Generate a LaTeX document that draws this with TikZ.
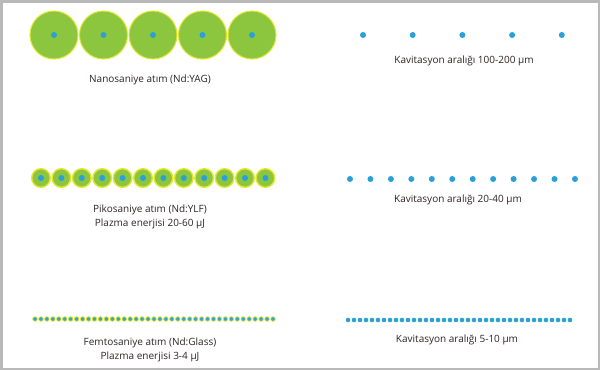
\documentclass[tikz,border=0pt]{standalone}
\usepackage{fontspec}
\setmainfont{Open Sans}
\definecolor{pulsegreen}{HTML}{8CC63F}
\definecolor{haloyellow}{HTML}{E2E62C}
\definecolor{cavblue}{HTML}{2A9FD8}
\definecolor{labelink}{HTML}{2E2424}
\begin{document}
\begin{tikzpicture}[x=1pt,y=-1pt,
  puls/.style={circle, fill=pulsegreen, draw=haloyellow, inner sep=0pt},
  kav/.style={circle, fill=cavblue, inner sep=0pt, minimum size=6pt},
  femto/.style={circle, fill=cavblue!85!pulsegreen, draw=haloyellow, line width=0.7pt, inner sep=0pt, minimum size=4.6pt},
  etiket/.style={text=labelink, font=\fontsize{10}{14}\selectfont, align=center}]
\useasboundingbox (0,0) rectangle (600,370);
\draw[gray!55, line width=2.5pt] (1.25,1.25) rectangle (598.75,368.75);
% nanosaniye
\foreach \i in {0,...,4} {
  \node[puls, minimum size=48pt, line width=1pt] (N\i) at (54+49.5*\i,35) {};
  \node[kav] (Nk\i) at (N\i) {};
  \node[kav] (K\i) at (363+49.7*\i,35) {};
}
\node[etiket] (nano) at (150,80) {Nanosaniye atım (Nd:YAG)};
\node[etiket] (kavnano) at (464,61) {Kavitasyon aralığı 100-200 µm};
% pikosaniye
\foreach \i in {0,...,11} {
  \node[puls, minimum size=18.6pt, line width=1.4pt] (P\i) at (41+20.4*\i,178) {};
  \node[kav] (Pk\i) at (P\i) {};
  \node[kav] (L\i) at (350+20.45*\i,179) {};
}
\node[etiket] (piko) at (150,217) {Pikosaniye atım (Nd:YLF)\\Plazma enerjisi 20-60 µJ};
\node[etiket] (kavpiko) at (458,200) {Kavitasyon aralığı 20-40 µm};
% femtosaniye
\foreach \i in {0,...,40}
  \node[femto] (F\i) at (35+5.95*\i,319) {};
\foreach \i in {0,...,37}
  \node[kav, minimum size=4.6pt] (M\i) at (348+6*\i,320) {};
\node[etiket] (femto) at (150,350) {Femtosaniye atım (Nd:Glass)\\Plazma enerjisi 3-4 µJ};
\node[etiket] (kavfemto) at (457,340) {Kavitasyon aralığı 5-10 µm};
\end{tikzpicture}
\end{document}
